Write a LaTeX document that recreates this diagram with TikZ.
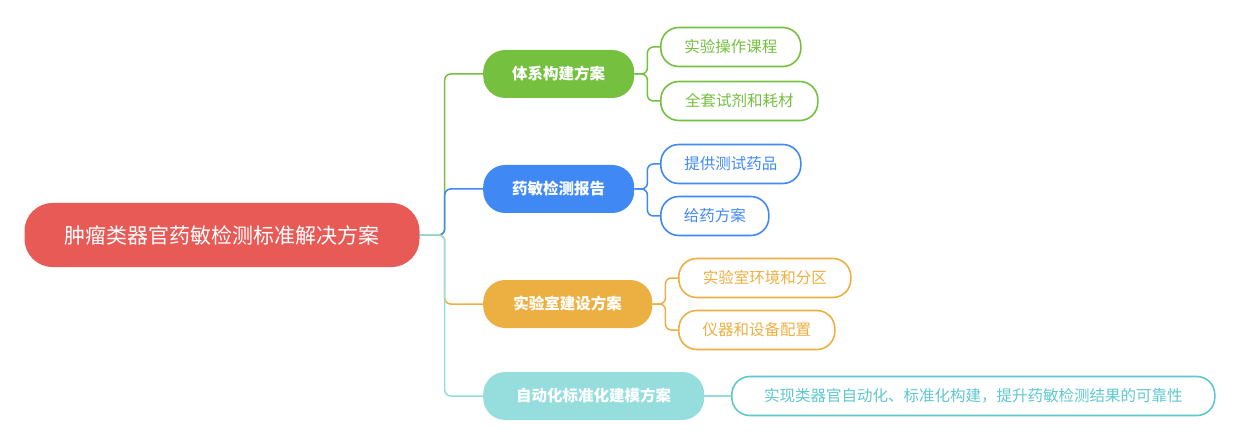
\documentclass[tikz,border=0pt]{standalone}
\usepackage{fontspec}
\setmainfont{Noto Sans CJK SC}
\usetikzlibrary{positioning}
\definecolor{rootc}{RGB}{232,90,85}
\definecolor{grn}{RGB}{118,192,64}
\definecolor{blu}{RGB}{64,137,245}
\definecolor{org}{RGB}{236,176,66}
\definecolor{cyn}{RGB}{150,222,222}
\definecolor{cyt}{RGB}{95,200,205}
\begin{document}
\begin{tikzpicture}[x=1pt,y=-1pt,
  root/.style = {fill = rootc, text = white, shape = rectangle, rounded corners = 28pt, minimum width = 395pt, minimum height = 64pt, font = \fontsize{21}{25}\selectfont},
  branch/.style = {fill = #1, text = white, shape = rectangle, rounded corners = 22pt, minimum height = 48pt, anchor = west, font = \fontsize{15.5}{18}\selectfont\bfseries},
  leaf/.style = {draw = #1, line width = 1.6pt, fill = white, text = #1, shape = rectangle, rounded corners = 18pt, minimum height = 39pt, anchor = west, font = \fontsize{15.5}{18}\selectfont},
  link/.style = {draw = #1, line width = 1.5pt, rounded corners = 6pt}]
\useasboundingbox (0,0) rectangle (1241,446);
\node[root] (root) at (222,235) {肿瘤类器官药敏检测标准解决方案};

\node[branch = grn, minimum width = 151pt] (sys) at (483,74) {体系构建方案};
\node[branch = blu, minimum width = 151pt] (rep) at (483,189) {药敏检测报告};
\node[branch = org, minimum width = 169pt] (lab) at (483,304) {实验室建设方案};
\node[branch = cyn, minimum width = 221pt] (auto) at (483,396) {自动化标准化建模方案};

\node[leaf = grn, minimum width = 140pt] (sys1) at (660,47) {实验操作课程};
\node[leaf = grn, minimum width = 157pt] (sys2) at (660,101) {全套试剂和耗材};
\node[leaf = blu, minimum width = 140pt] (rep1) at (660,164) {提供测试药品};
\node[leaf = blu, minimum width = 108pt] (rep2) at (660,216) {给药方案};
\node[leaf = org, minimum width = 172pt] (lab1) at (678,278) {实验室环境和分区};
\node[leaf = org, minimum width = 156pt] (lab2) at (678,330) {仪器和设备配置};
\node[leaf = cyt, minimum width = 483pt] (auto1) at (731,396) {实现类器官自动化、标准化构建，提升药敏检测结果的可靠性};

% root to branches
\draw[link = grn] (root.east) -- ++(25,0) |- (sys.west);
\draw[link = blu] (root.east) -- ++(25,0) |- (rep.west);
\draw[link = org] (root.east) -- ++(25,0) |- (lab.west);
\draw[link = cyn] (root.east) -- ++(25,0) |- (auto.west);

% branches to leaves
\foreach \b/\l/\c in {sys/sys1/grn, sys/sys2/grn, rep/rep1/blu, rep/rep2/blu, lab/lab1/org, lab/lab2/org}
  \draw[link = \c] (\b.east) -- ++(13,0) |- (\l.west);
\draw[link = cyn] (auto.east) -- (auto1.west);
\end{tikzpicture}
\end{document}
